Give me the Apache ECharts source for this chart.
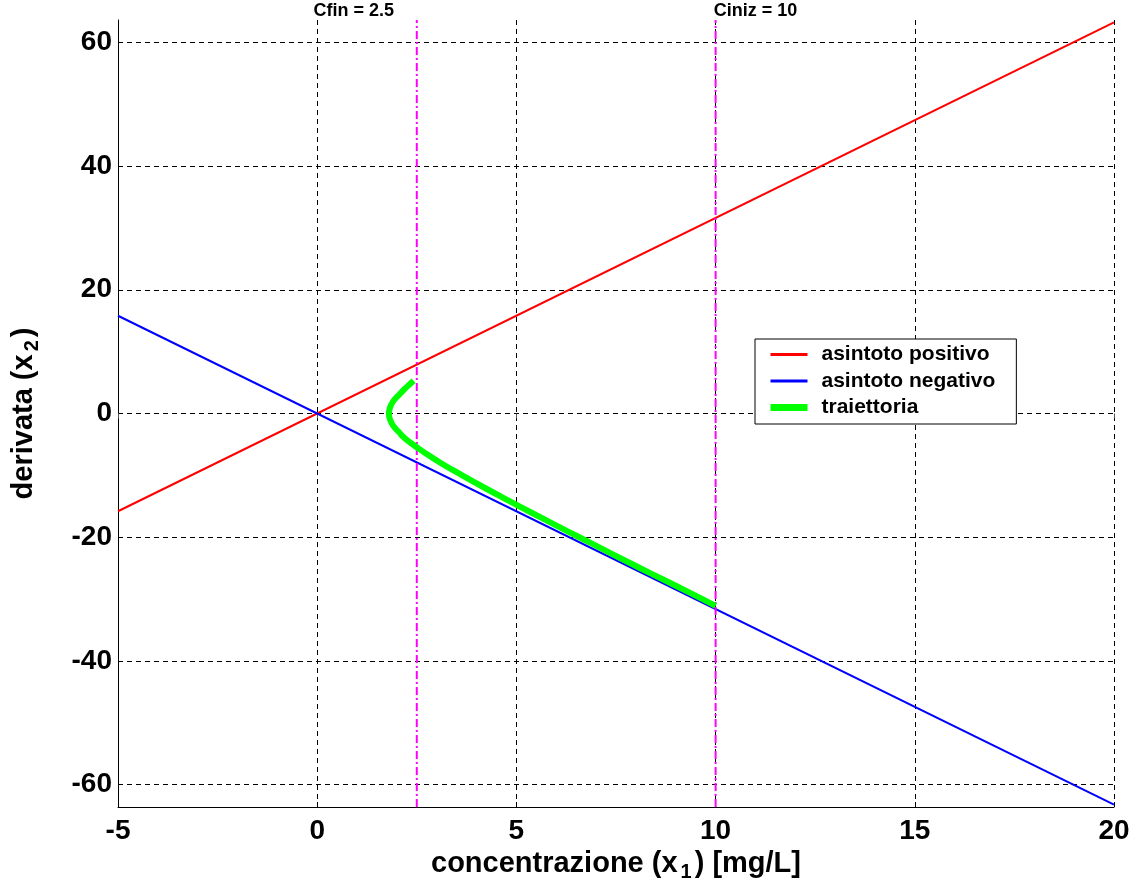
<!DOCTYPE html>
<html>
<head>
<meta charset="utf-8">
<script src="https://cdn.jsdelivr.net/npm/echarts@6/dist/echarts.min.js"></script>
<style>
  html, body { margin: 0; padding: 0; background: #fff; }
  #chart { width: 1137px; height: 890px; }
</style>
</head>
<body>
<div id="chart"></div>
<script>
// assi
const xTicks = [-5, 0, 5, 10, 15, 20];
const yTicks = [-60, -40, -20, 0, 20, 40, 60];
const yLimits = [-63.6, 63.6];

// asintoti (retta per l'origine)
const asintotoPositivo = [[-5, -15.8], [20, 63.2]];
const asintotoNegativo = [[-5, 15.8], [20, -63.2]];

// traiettoria
const traiettoria = [
  [2.42, 5.3], [2.3, 4.6], [2.2, 4.0], [2.05, 3.0], [1.91, 2.0], [1.83, 1.0],
  [1.8, 0], [1.83, -1.0], [1.91, -2.0], [2.05, -3.0], [2.2, -4.0], [2.4, -5.0],
  [2.62, -6.0], [3.1, -8.0], [3.64, -10.0], [4.2, -12.0], [4.78, -14.0],
  [5.37, -16.0], [5.97, -18.0], [6.58, -20.0], [7.19, -22.0], [7.8, -24.0],
  [8.42, -26.0], [9.05, -28.0], [9.67, -30.0], [10.0, -31.1]
];

// linee verticali
const cFin = 2.5;
const cIniz = 10;

const font = 'Liberation Sans, Arial, sans-serif';
const myChart = echarts.init(document.getElementById('chart'));

function verticale(x, testo, offset) {
  return {
    type: 'line',
    name: testo,
    symbol: 'circle',
    symbolSize: 0.1,
    showSymbol: true,
    silent: true,
    itemStyle: { color: '#ff00ff' },
    lineStyle: { color: '#ff00ff', width: 2, type: [8, 3, 2, 3] },
    data: [
      [x, yLimits[0]],
      {
        value: [x, yLimits[1]],
        label: {
          show: true, position: 'top', formatter: testo, offset: offset,
          color: '#000', fontFamily: font, fontWeight: 'bold', fontSize: 18, distance: 0
        }
      }
    ],
    z: 3
  };
}

const titleStyle = {
  color: '#000', fontFamily: font, fontWeight: 'bold', fontSize: 29,
  rich: { sub: { fontFamily: font, fontWeight: 'bold', fontSize: 20, verticalAlign: 'bottom', padding: [16, 3, 0, 3] } }
};

myChart.setOption({
  animation: false,
  backgroundColor: '#fff',
  grid: { left: 118, right: 23, top: 20, bottom: 83 },
  xAxis: [{
    type: 'value',
    min: -5, max: 20, interval: 5,
    name: 'concentrazione (x{sub|1}) [mg/L]',
    nameLocation: 'middle',
    nameGap: 38,
    nameTextStyle: titleStyle,
    axisLine: { show: true, onZero: false, lineStyle: { color: '#000', width: 1 } },
    axisTick: { inside: true, length: 5, lineStyle: { color: '#000' } },
    axisLabel: { color: '#000', fontFamily: font, fontWeight: 'bold', fontSize: 28, margin: 10 },
    splitLine: { show: true, lineStyle: { color: '#000', width: 1, type: [5, 4] } }
  }, {
    type: 'value', position: 'top',
    min: -5, max: 20, interval: 5,
    axisLine: { show: false },
    axisTick: { show: true, inside: true, length: 5, lineStyle: { color: '#555' } },
    axisLabel: { show: false },
    splitLine: { show: false }
  }],
  yAxis: {
    type: 'value',
    min: yLimits[0], max: yLimits[1],
    name: 'derivata (x{sub|2})',
    nameLocation: 'middle',
    nameGap: 76,
    nameTextStyle: titleStyle,
    axisLine: { show: true, onZero: false, lineStyle: { color: '#000', width: 1 } },
    axisTick: { inside: true, length: 5, customValues: yTicks, lineStyle: { color: '#000' } },
    axisLabel: { customValues: yTicks, color: '#000', fontFamily: font, fontWeight: 'bold', fontSize: 28, margin: 6 },
    splitLine: { show: true, lineStyle: { color: '#000', width: 1, type: [5, 4] } }
  },
  legend: {
    orient: 'vertical',
    left: 755, top: 339,
    padding: [5, 21, 6, 12],
    itemGap: 5.5,
    itemWidth: 37, itemHeight: 18,
    backgroundColor: '#fff',
    borderColor: '#000', borderWidth: 1, borderRadius: 0,
    itemStyle: { opacity: 0 },
    textStyle: { color: '#000', fontFamily: font, fontWeight: 'bold', fontSize: 21, padding: [0, 0, 0, 9] },
    data: [
      { name: 'asintoto positivo', lineStyle: { width: 3, color: '#ff0000' } },
      { name: 'asintoto negativo', lineStyle: { width: 3, color: '#0000ff' } },
      { name: 'traiettoria', lineStyle: { width: 7, color: '#00ff00' } }
    ]
  },
  series: [
    {
      type: 'line', name: 'asintoto positivo', symbol: 'none',
      lineStyle: { color: '#ff0000', width: 2 }, itemStyle: { color: '#ff0000' },
      data: asintotoPositivo, z: 2
    },
    {
      type: 'line', name: 'asintoto negativo', symbol: 'none',
      lineStyle: { color: '#0000ff', width: 2 }, itemStyle: { color: '#0000ff' },
      data: asintotoNegativo, z: 2
    },
    {
      type: 'line', name: 'traiettoria', symbol: 'none', smooth: true,
      lineStyle: { color: '#00ff00', width: 6 }, itemStyle: { color: '#00ff00' },
      data: traiettoria, z: 4
    },
    verticale(cFin, 'Cfin = 2.5', [-63, 0]),
    verticale(cIniz, 'Ciniz = 10', [40, 0])
  ]
});
window.onresize = function () {
  myChart.resize();
};
</script>
</body>
</html>
